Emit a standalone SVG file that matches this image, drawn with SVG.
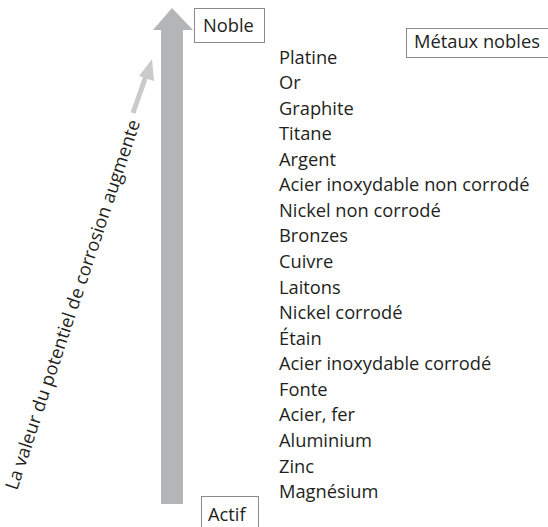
<svg xmlns="http://www.w3.org/2000/svg" width="548" height="527" viewBox="0 0 548 527">
<style>
text{font-family:"Open Sans","Noto Sans",sans-serif;font-size:18.3px;fill:#231f20}
.box{fill:#fff;stroke:#8a8a8a;stroke-width:1}
</style>
<rect width="548" height="527" fill="#fff"/>
<g id="connectors">
<path id="main-arrow" d="M161,504 L161,30 L153,30 L172,8 L193,30 L183,30 L183,504 Z" fill="#b4b5b7"/>
<line x1="133" y1="113" x2="146" y2="76" stroke="#c9cacb" stroke-width="5"/>
<path d="M152,59 L154,81 L139,76 Z" fill="#c9cacb"/>
</g>
<g id="noble"><rect class="box" x="194.5" y="8.5" width="70" height="34"/><text x="203" y="32">Noble</text></g>
<g id="actif"><rect class="box" x="201.5" y="496.5" width="57" height="40"/><text x="208" y="521">Actif</text></g>
<g id="metaux-nobles"><rect class="box" x="406.5" y="28.5" width="142" height="29"/><text x="414" y="48">Métaux nobles</text></g>
<g id="label"><text transform="translate(17,491) rotate(-71.5)">La valeur du potentiel de corrosion augmente</text></g>
<g id="list">
<text x="279" y="64">Platine</text>
<text x="279" y="89">Or</text>
<text x="279" y="115">Graphite</text>
<text x="279" y="140">Titane</text>
<text x="279" y="166">Argent</text>
<text x="279" y="191">Acier inoxydable non corrodé</text>
<text x="279" y="217">Nickel non corrodé</text>
<text x="279" y="242">Bronzes</text>
<text x="279" y="268">Cuivre</text>
<text x="279" y="294">Laitons</text>
<text x="279" y="319">Nickel corrodé</text>
<text x="279" y="345">Étain</text>
<text x="279" y="370">Acier inoxydable corrodé</text>
<text x="279" y="396">Fonte</text>
<text x="279" y="421">Acier, fer</text>
<text x="279" y="447">Aluminium</text>
<text x="279" y="473">Zinc</text>
<text x="279" y="498">Magnésium</text>
</g>
</svg>
